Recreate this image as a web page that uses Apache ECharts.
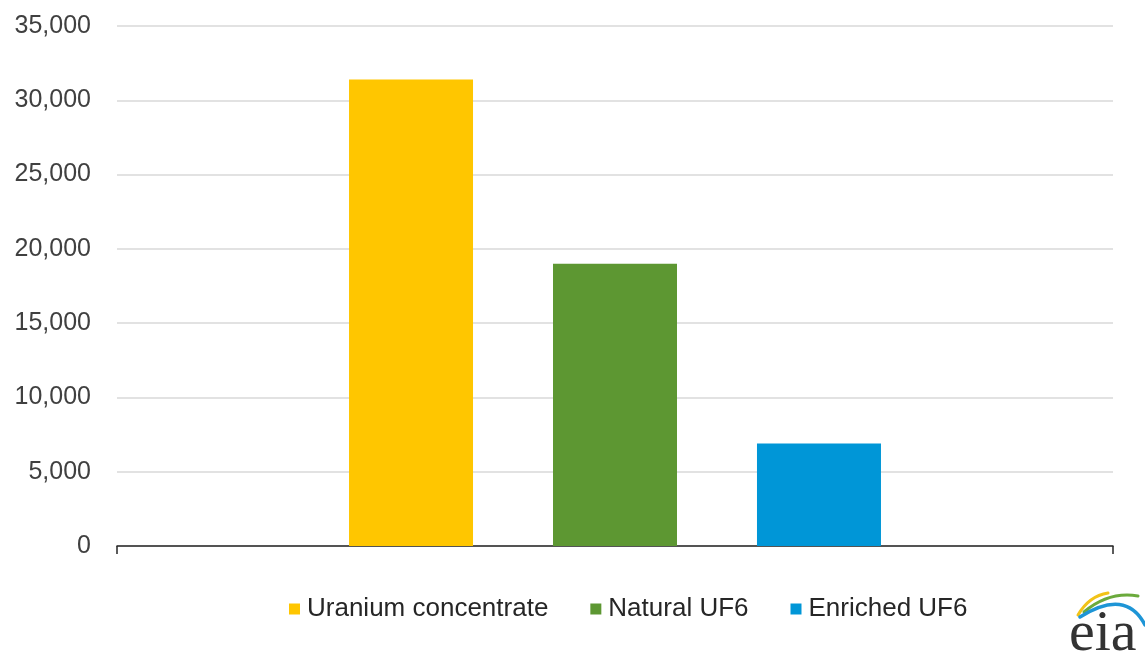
<!DOCTYPE html>
<html>
<head>
<meta charset="utf-8">
<script src="https://cdn.jsdelivr.net/npm/echarts@6/dist/echarts.min.js"></script>
<style>
    html, body { margin: 0; padding: 0; background: #fff; }
    #chart { width: 1145px; height: 652px; }
</style>
</head>
<body>
<div id="chart"></div>
<script>
// 数据
let categories = [''];
let seriesNames = ['Uranium concentrate', 'Natural UF6', 'Enriched UF6'];
let uraniumConcentrate = [31400];
let naturalUF6 = [19000];
let enrichedUF6 = [6900];
let yTicks = [0, 5000, 10000, 15000, 20000, 25000, 30000, 35000];

let color = ['#FFC600', '#5D9732', '#0096D7'];
let font = '"Liberation Sans", Arial, sans-serif';

let makeBar = (name, data, c) => {
    return {
        name: name,
        type: 'bar',
        data: data,
        barWidth: 124,
        barGap: '64.5%',
        itemStyle: {
            color: c
        }
    };
};

// eia 标志的弧线
let logoCurve = (x1, y1, cx, cy, x2, y2, c, w) => {
    return {
        type: 'bezierCurve',
        shape: { x1: x1, y1: y1, cpx1: cx, cpy1: cy, x2: x2, y2: y2 },
        style: { stroke: c, lineWidth: w, fill: null, lineCap: 'round' }
    };
};

let option = {
    animation: false,
    color: color,
    grid: {
        left: 117,
        right: 32,
        top: 26,
        bottom: 106,
        containLabel: false
    },
    legend: {
        data: seriesNames,
        top: 591,
        left: 284,
        icon: 'rect',
        itemWidth: 11,
        itemHeight: 11,
        itemGap: 42,
        textStyle: {
            fontFamily: font,
            fontSize: 26,
            color: '#262626',
            padding: [0, 0, 0, 2]
        }
    },
    xAxis: {
        type: 'category',
        data: categories,
        axisLine: {
            lineStyle: {
                color: '#262626',
                width: 1.5
            }
        },
        axisTick: {
            show: true,
            length: 8,
            lineStyle: {
                color: '#262626',
                width: 1.5
            }
        },
        axisLabel: {
            show: false
        }
    },
    yAxis: {
        type: 'value',
        min: yTicks[0],
        max: yTicks[yTicks.length - 1],
        interval: yTicks[1] - yTicks[0],
        axisLine: {
            show: false
        },
        axisTick: {
            show: false
        },
        axisLabel: {
            margin: 26,
            fontFamily: font,
            fontSize: 25,
            color: '#404040',
            formatter: (v) => v.toLocaleString('en-US')
        },
        splitLine: {
            lineStyle: {
                color: '#D9D9D9',
                width: 1.5
            }
        }
    },
    graphic: [
        logoCurve(1078, 615, 1089, 596, 1108, 593, '#F2C318', 3),
        logoCurve(1084, 612, 1109, 591, 1138, 596, '#6BAA3C', 3),
        logoCurve(1080, 617, 1126, 588, 1145, 625, '#1E95D6', 3.5),
        {
            type: 'text',
            left: 1069,
            top: 606,
            style: {
                text: 'eia',
                fontFamily: '"Liberation Serif", "DejaVu Serif", serif',
                fontSize: 58,
                fill: '#333333'
            }
        }
    ],
    series: [
        makeBar(seriesNames[0], uraniumConcentrate, color[0]),
        makeBar(seriesNames[1], naturalUF6, color[1]),
        makeBar(seriesNames[2], enrichedUF6, color[2])
    ]
};

let chart = echarts.init(document.getElementById('chart'));
chart.setOption(option);
</script>
</body>
</html>
